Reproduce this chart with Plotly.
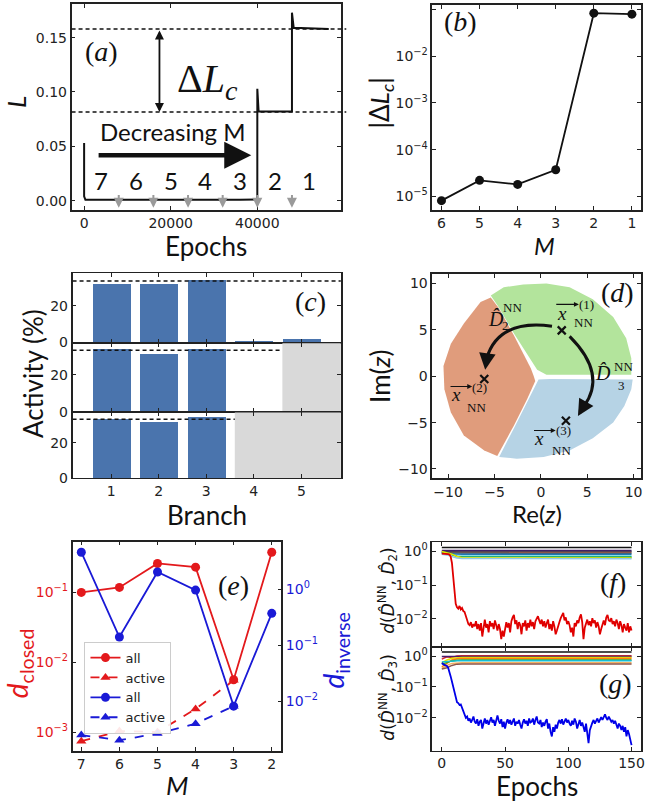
import plotly.graph_objects as go

W, H = 651, 811

# ---------------- (a) training loss over successive stages ----------------
loss_epochs = [0, 0, 300, 20000, 36000, 39900, 40000, 40000, 40300, 47900, 48000, 48000, 48400, 56500]
loss_values = [0.053, 0.004, 0.0008, 0.0006, 0.0008, 0.0012, 0.0008, 0.103, 0.082, 0.082, 0.082, 0.173, 0.159, 0.158]
stage_ends = [8000, 16000, 24000, 32000, 40000, 48000]
stage_mid = [4000, 12000, 20000, 28000, 36000, 44000, 52000]
stage_M = ["7", "6", "5", "4", "3", "2", "1"]
plateau_M2 = 0.0815
plateau_M1 = 0.158

# ---------------- (b) closure loss jump vs M ----------------
M_b = [6, 5, 4, 3, 2, 1]
dLc = [8.1e-6, 2.2e-5, 1.8e-5, 3.7e-5, 0.083, 0.079]

# ---------------- (c) branch activity ----------------
branches = [1, 2, 3, 4, 5]
act_M5 = [31.5, 31.5, 33.5, 0.9, 1.8]
act_M4 = [34.0, 31.5, 34.0, 0.8]
act_M3 = [33.5, 32.0, 34.5]
equal_share = 100 / 3

# ---------------- (d) partition of the complex plane ----------------
green_x = [-0.4, -2.9, -4.5, -5.4, -4.0, -1.9, 0.6, 3.1, 5.6, 7.8, 9.2, 9.75, 9.75, 0.6]
green_y = [0.7, 4.6, 7.4, 8.7, 9.6, 9.9, 10.0, 9.6, 8.3, 6.4, 4.1, 1.95, 0.15, 0.15]
orange_x = [-0.8, -1.1, -2.9, -4.5, -5.4, -6.5, -8.3, -9.7, -10.5, -10.4, -9.7, -8.3, -6.1, -4.7, -2.9, -1.5, -0.6]
orange_y = [0.1, 0.9, 4.4, 7.3, 8.5, 8.0, 5.7, 3.5, 1.1, -1.4, -3.9, -6.4, -8.0, -8.6, -5.3, -2.5, -0.5]
blue_x = [-0.25, -1.3, -2.75, -4.5, -2.6, 0.3, 3.1, 5.6, 7.8, 9.0, 9.75, 9.9, 1.0]
blue_y = [-0.35, -2.5, -5.3, -8.7, -8.9, -8.7, -8.0, -6.7, -5.0, -3.2, -1.4, -0.35, -0.3]
centroid_x = [2.25, -6.1, 2.7]
centroid_y = [4.95, -0.3, -4.8]

# ---------------- (e) distances vs M ----------------
M_e = [7, 6, 5, 4, 3, 2]
closed_all = [0.100, 0.118, 0.26, 0.23, 0.0056, 0.377]
closed_active = [7.4e-4, 1.03e-3, 1.0e-3, 2.14e-3, 5.5e-3]
inverse_all = [4.55, 0.14, 2.02, 0.96, 0.0082, 0.37]
inverse_active = [2.5e-3, 2.03e-3, 2.66e-3, 4.0e-3, 8.2e-3]

# ---------------- (f), (g) distance to target operators ----------------
epochs = list(range(151))
d2_match = [
    0.85, 0.85, 0.84, 0.84, 0.83, 0.82, 0.80, 0.70, 0.45, 0.20,
    0.07, 0.028, 0.022, 0.020, 0.024, 0.019, 0.021, 0.017, 0.016, 0.012,
    0.009, 0.007, 0.0065, 0.008, 0.0055, 0.007,
    0.006, 0.0085, 0.005, 0.007, 0.0045, 0.0075, 0.003, 0.006, 0.0095, 0.0055,
    0.007, 0.004, 0.0085, 0.006, 0.0075, 0.005, 0.009, 0.0065, 0.0045, 0.007,
    0.005, 0.0025, 0.0045, 0.003, 0.006, 0.008, 0.0055, 0.0075, 0.004, 0.0085,
    0.011, 0.013, 0.007, 0.009, 0.005, 0.008, 0.0065, 0.0035, 0.0075, 0.006,
    0.009, 0.0045, 0.0075, 0.0055, 0.0095, 0.006, 0.008, 0.005, 0.0085, 0.0105,
    0.012, 0.009, 0.007, 0.0095, 0.006, 0.0085, 0.0055, 0.0075, 0.0095, 0.005,
    0.007, 0.0045, 0.0085, 0.006, 0.0035, 0.0045, 0.0065, 0.008, 0.0105, 0.013,
    0.015, 0.009, 0.011, 0.007, 0.0085, 0.0065, 0.004, 0.0055, 0.003, 0.0075,
    0.006, 0.009, 0.0075, 0.011, 0.0135, 0.008, 0.0025, 0.0055, 0.007, 0.0095,
    0.0065, 0.0085, 0.006, 0.0105, 0.0075, 0.009, 0.0055, 0.008, 0.006, 0.0035,
    0.005, 0.0075, 0.009, 0.0065, 0.011, 0.013, 0.009, 0.0085, 0.0105, 0.007,
    0.0085, 0.006, 0.0095, 0.0075, 0.005, 0.0085, 0.0065, 0.004, 0.007, 0.0055,
    0.0045, 0.0075, 0.004, 0.006, 0.0045,
]
d3_match = [
    0.60, 0.55, 0.52, 0.50, 0.48, 0.42, 0.32, 0.22, 0.15, 0.10,
    0.065, 0.045, 0.032, 0.030, 0.026, 0.027, 0.021, 0.016, 0.012, 0.010, 0.011,
    0.008, 0.0095, 0.007, 0.0085, 0.011, 0.0075, 0.0065, 0.009, 0.0055, 0.0075,
    0.0085, 0.0045, 0.007, 0.0095, 0.0065, 0.0085, 0.006, 0.0075, 0.0105, 0.007,
    0.0085, 0.0055, 0.0095, 0.012, 0.008, 0.0065, 0.009, 0.005, 0.0075, 0.0045,
    0.007, 0.009, 0.0065, 0.0085, 0.006, 0.008, 0.0095, 0.0055, 0.0075, 0.0065,
    0.0085, 0.006, 0.0045, 0.007, 0.009, 0.0065, 0.008, 0.0055, 0.0095, 0.007,
    0.0075, 0.0095, 0.006, 0.0085, 0.011, 0.007, 0.0065, 0.0085, 0.005, 0.007,
    0.0055, 0.0075, 0.009, 0.0045, 0.0065, 0.0035, 0.0025, 0.005, 0.0035, 0.006,
    0.0045, 0.007, 0.0085, 0.0065, 0.009, 0.006, 0.0075, 0.0095, 0.007, 0.0085,
    0.0065, 0.0055, 0.008, 0.006, 0.0095, 0.0075, 0.0045, 0.0065, 0.0085, 0.0055,
    0.007, 0.005, 0.0035, 0.0065, 0.0025, 0.0015, 0.004, 0.0055, 0.007, 0.0085,
    0.0065, 0.008, 0.0095, 0.007, 0.009, 0.0105, 0.0085, 0.0115, 0.013, 0.010,
    0.0085, 0.011, 0.009, 0.0075, 0.0085, 0.0065, 0.008, 0.006, 0.0045, 0.0065,
    0.0055, 0.004, 0.0055, 0.0035, 0.005, 0.0025, 0.004, 0.003, 0.002, 0.0013,
]
other_epochs = [0, 4, 8, 12, 16, 150]
f_others = [
    ("#111111", [1.30, 1.30, 1.30, 1.30, 1.30, 1.30]),
    ("#4b1c6b", [1.05, 1.06, 1.05, 1.05, 1.05, 1.05]),
    ("#22285e", [0.98, 0.98, 0.99, 0.99, 0.99, 0.99]),
    ("#8c564b", [0.92, 0.93, 0.93, 0.93, 0.93, 0.93]),
    ("#555555", [0.88, 0.88, 0.87, 0.87, 0.87, 0.87]),
    ("#1f77b4", [0.86, 0.85, 0.83, 0.82, 0.82, 0.82]),
    ("#17becf", [0.90, 0.86, 0.78, 0.72, 0.71, 0.71]),
    ("#2ca02c", [0.95, 0.90, 0.80, 0.70, 0.67, 0.66]),
    ("#e6e600", [0.98, 0.92, 0.82, 0.70, 0.64, 0.63]),
    ("#8fc8e8", [0.82, 0.78, 0.70, 0.63, 0.61, 0.60]),
]
g_others = [
    ("#111111", [1.35, 1.35, 1.35, 1.35, 1.35, 1.35]),
    ("#d62728", [0.80, 0.95, 0.90, 1.00, 1.02, 1.02]),
    ("#4b1c6b", [0.98, 0.98, 0.98, 0.98, 0.98, 0.98]),
    ("#e6e600", [0.60, 0.75, 0.85, 0.88, 0.90, 0.90]),
    ("#ff7f0e", [0.45, 0.60, 0.75, 0.82, 0.84, 0.84]),
    ("#2ca02c", [0.55, 0.62, 0.70, 0.74, 0.75, 0.75]),
    ("#17becf", [0.65, 0.68, 0.70, 0.71, 0.71, 0.71]),
    ("#f5b060", [0.40, 0.50, 0.58, 0.60, 0.61, 0.61]),
    ("#8c564b", [0.38, 0.42, 0.50, 0.55, 0.56, 0.56]),
]

# ---------------- styling helpers ----------------
INK = "#222222"
TICKFONT = dict(family="DejaVu Sans", size=14, color=INK)
LABEL = "Lato"
SERIF = "Liberation Serif"
RED = "#e3191c"
BLUE = "#1a1ad6"
BAR = "#4a74ad"
SHADE = "#d9d9d9"
FINE_DASH = "4px,3px"


def dom_x(x0, x1):
    return [x0 / W, x1 / W]


def dom_y(y0, y1):
    return [1 - y1 / H, 1 - y0 / H]


def axis(domain, rng, **kw):
    a = dict(domain=domain, range=rng, showline=True, linecolor=INK, linewidth=1.5,
             mirror="ticks", ticks="inside", ticklen=4, tickwidth=1.2, tickcolor=INK,
             showgrid=False, zeroline=False, tickfont=TICKFONT)
    a.update(kw)
    return a


def pow10(e):
    return "10<sup>\u2212%d</sup>" % -e if e < 0 else "10<sup>%d</sup>" % e


fig = go.Figure()
ann = []
shapes = []

# ---------- (a) ----------
fig.add_trace(go.Scatter(x=loss_epochs, y=loss_values, mode="lines", xaxis="x", yaxis="y",
                         line=dict(color="#111111", width=2), showlegend=False))
for lvl in (plateau_M1, plateau_M2):
    shapes.append(dict(type="line", xref="x domain", yref="y", x0=0.0, x1=1.02, y0=lvl, y1=lvl,
                       line=dict(color="#111111", width=1.5, dash=FINE_DASH)))
for e in stage_ends:
    ann.append(dict(x=e, y=-0.0065, ax=e, ay=0.0065, xref="x", yref="y", axref="x", ayref="y",
                    text="", showarrow=True, arrowhead=2, arrowsize=1, arrowwidth=2, arrowcolor="#9a9a9a"))
for xm, lab in zip(stage_mid, stage_M):
    ann.append(dict(x=xm, y=0.019, xref="x", yref="y", text=lab, showarrow=False,
                    font=dict(family=LABEL, size=24, color="#111111")))
ann.append(dict(x=17400, y=plateau_M2, ax=17400, ay=plateau_M1, xref="x", yref="y", axref="x", ayref="y",
                text="", showarrow=True, arrowhead=2, startarrowhead=2, arrowside="end+start",
                arrowsize=1, arrowwidth=1.8, arrowcolor="#111111"))
ann.append(dict(x=38600, y=0.0417, ax=3000, ay=0.0417, xref="x", yref="y", axref="x", ayref="y",
                text="", showarrow=True, arrowhead=2, arrowsize=1.2, arrowwidth=4.5, arrowcolor="#111111"))
ann.append(dict(x=20500, y=0.064, xref="x", yref="y", text="Decreasing M", showarrow=False,
                font=dict(family=LABEL, size=24, color="#111111")))
ann.append(dict(x=28500, y=0.110, xref="x", yref="y", text="\u0394<i>L<sub>c</sub></i>", showarrow=False,
                font=dict(family=SERIF, size=40, color="#111111")))

# ---------- (b) ----------
fig.add_trace(go.Scatter(x=M_b, y=dLc, mode="lines+markers", xaxis="x2", yaxis="y2",
                         line=dict(color="#111111", width=1.8),
                         marker=dict(color="#111111", size=9), showlegend=False))

# ---------- (c) ----------
c_rows = [("x3", "y3", act_M5, None), ("x4", "y4", act_M4, 4.6), ("x5", "y5", act_M3, 3.6)]
for xa, ya, vals, shade_from in c_rows:
    fig.add_trace(go.Bar(x=branches[:len(vals)], y=vals, xaxis=xa, yaxis=ya, width=0.8,
                         marker=dict(color=BAR, line=dict(width=0)), showlegend=False))
    line_end = 5.83 if shade_from is None else shade_from
    if shade_from is not None:
        shapes.append(dict(type="rect", xref=xa, yref=ya, x0=shade_from, x1=5.83, y0=0, y1=37.2,
                           fillcolor=SHADE, line=dict(width=0), layer="below"))
    shapes.append(dict(type="line", xref=xa, yref=ya, x0=0.19, x1=line_end, y0=equal_share, y1=equal_share,
                       line=dict(color="#111111", width=1.5, dash=FINE_DASH)))

# ---------- (d) ----------
for xs, ys, col in [(green_x, green_y, "#b3e49c"), (orange_x, orange_y, "#e09c7c"), (blue_x, blue_y, "#b6d3e5")]:
    fig.add_trace(go.Scatter(x=xs, y=ys, fill="toself", fillcolor=col, mode="lines",
                             line=dict(width=0, color=col), xaxis="x6", yaxis="y6", showlegend=False,
                             hoverinfo="skip"))
fig.add_trace(go.Scatter(x=centroid_x, y=centroid_y, mode="markers", xaxis="x6", yaxis="y6",
                         marker=dict(symbol="x-thin", size=8, line=dict(width=2.2, color="#111111")),
                         showlegend=False))
shapes.append(dict(type="path", xref="x6", yref="y6", path="M 1.2,5.4 Q -4.6,6.2 -5.85,1.9",
                   line=dict(color="#111111", width=3)))
shapes.append(dict(type="path", xref="x6", yref="y6", path="M 3.1,4.3 Q 7.2,0.2 4.6,-3.3",
                   line=dict(color="#111111", width=3)))
ann.append(dict(x=-6.0, y=0.7, ax=-5.8, ay=2.2, xref="x6", yref="y6", axref="x6", ayref="y6",
                text="", showarrow=True, arrowhead=2, arrowsize=1.1, arrowwidth=3, arrowcolor="#111111"))
ann.append(dict(x=4.0, y=-4.3, ax=4.7, ay=-3.1, xref="x6", yref="y6", axref="x6", ayref="y6",
                text="", showarrow=True, arrowhead=2, arrowsize=1.1, arrowwidth=3, arrowcolor="#111111"))


def d_text(x, y, t, size):
    ann.append(dict(x=x, y=y, xref="x6", yref="y6", text=t, showarrow=False,
                    font=dict(family=SERIF, size=size, color="#111111")))


def vec_arrow(x0, x1, y):
    ann.append(dict(x=x1, y=y, ax=x0, ay=y, xref="x6", yref="y6", axref="x6", ayref="y6",
                    text="", showarrow=True, arrowhead=2, arrowsize=0.9, arrowwidth=1.1,
                    arrowcolor="#111111"))


d_text(-4.8, 6.2, "<i>D\u0302</i>", 20)
d_text(-3.1, 7.4, "NN", 13)
d_text(-3.8, 5.5, "2", 13)
d_text(6.7, 0.3, "<i>D\u0302</i>", 20)
d_text(8.9, 1.1, "NN", 13)
d_text(8.7, -1.0, "3", 13)

d_text(2.25, 6.75, "<i>x</i>", 19)
vec_arrow(1.5, 4.1, 7.75)
d_text(4.95, 7.7, "(1)", 13)
d_text(4.6, 5.85, "NN", 13)

d_text(-9.2, -1.95, "<i>x</i>", 19)
vec_arrow(-9.9, -7.4, -1.1)
d_text(-6.6, -1.2, "(2)", 13)
d_text(-6.9, -3.4, "NN", 13)

d_text(-0.25, -6.7, "<i>x</i>", 19)
vec_arrow(-0.9, 1.6, -5.85)
d_text(2.4, -5.85, "(3)", 13)
d_text(2.25, -8.0, "NN", 13)

# ---------- (e) ----------
fig.add_trace(go.Scatter(x=M_e, y=closed_all, mode="lines+markers", name="all", xaxis="x7", yaxis="y7",
                         line=dict(color=RED, width=1.8), marker=dict(color=RED, size=9, symbol="circle")))
fig.add_trace(go.Scatter(x=M_e[:5], y=closed_active, mode="lines+markers", name="active", xaxis="x7", yaxis="y7",
                         line=dict(color=RED, width=1.8, dash="dash"),
                         marker=dict(color=RED, size=9, symbol="triangle-up")))
fig.add_trace(go.Scatter(x=M_e, y=inverse_all, mode="lines+markers", name="all", xaxis="x7", yaxis="y8",
                         line=dict(color=BLUE, width=1.8), marker=dict(color=BLUE, size=9, symbol="circle")))
fig.add_trace(go.Scatter(x=M_e[:5], y=inverse_active, mode="lines+markers", name="active", xaxis="x7", yaxis="y8",
                         line=dict(color=BLUE, width=1.8, dash="dash"),
                         marker=dict(color=BLUE, size=9, symbol="triangle-up")))

# ---------- (f), (g) ----------
for col, vals in f_others:
    fig.add_trace(go.Scatter(x=other_epochs, y=vals, mode="lines", xaxis="x8", yaxis="y9",
                             line=dict(color=col, width=1.5), showlegend=False))
fig.add_trace(go.Scatter(x=epochs, y=d2_match, mode="lines", xaxis="x8", yaxis="y9",
                         line=dict(color="#e00000", width=1.8), showlegend=False))
for col, vals in g_others:
    fig.add_trace(go.Scatter(x=other_epochs, y=vals, mode="lines", xaxis="x9", yaxis="y10",
                             line=dict(color=col, width=1.5), showlegend=False))
fig.add_trace(go.Scatter(x=epochs, y=d3_match, mode="lines", xaxis="x9", yaxis="y10",
                         line=dict(color="#0000e8", width=1.8), showlegend=False))

# ---------- axes ----------
SHARED_LINE = 1.0
layout_axes = dict(
    xaxis=axis(dom_x(72, 343), [-2900, 59300], anchor="y", tickvals=[0, 20000, 40000],
               ticktext=["0", "20000", "40000"]),
    yaxis=axis(dom_y(4, 212), [-0.0085, 0.181], anchor="x", tickvals=[0, 0.05, 0.10, 0.15],
               ticktext=["0.00", "0.05", "0.10", "0.15"]),
    xaxis2=axis(dom_x(435, 645), [6.24, 0.76], anchor="y2", tickvals=M_b),
    yaxis2=axis(dom_y(5, 212), [-5.29, -0.905], anchor="x2", type="log",
                tickvals=[1e-5, 1e-4, 1e-3, 1e-2, 1e-1], ticktext=[pow10(e) for e in (-5, -4, -3, -2, -1)]),
    xaxis3=axis(dom_x(73, 343), [0.19, 5.83], anchor="y3", tickvals=branches, showticklabels=False,
                linewidth=SHARED_LINE),
    yaxis3=axis(dom_y(276, 346), [0, 37.5], anchor="x3", tickvals=[0, 20]),
    xaxis4=axis(dom_x(73, 343), [0.19, 5.83], anchor="y4", tickvals=branches, showticklabels=False,
                linewidth=SHARED_LINE),
    yaxis4=axis(dom_y(346, 416), [0, 37.5], anchor="x4", tickvals=[0, 20]),
    xaxis5=axis(dom_x(73, 343), [0.19, 5.83], anchor="y5", tickvals=branches, linewidth=SHARED_LINE),
    yaxis5=axis(dom_y(416, 483), [0, 37.5], anchor="x5", tickvals=[0, 20]),
    xaxis6=axis(dom_x(435, 645), [-11.7, 10.8], anchor="y6", tickvals=[-10, -5, 0, 5, 10],
                ticktext=["\u221210", "\u22125", "0", "5", "10"]),
    yaxis6=axis(dom_y(277, 483), [-11, 11], anchor="x6", tickvals=[-10, -5, 0, 5, 10],
                ticktext=["\u221210", "\u22125", "0", "5", "10"]),
    xaxis7=axis(dom_x(73, 283), [7.23, 1.75], anchor="y7", tickvals=M_e),
    yaxis7=axis(dom_y(547, 758), [-3.265, -0.272], anchor="x7", type="log", mirror=False,
                tickvals=[1e-3, 1e-2, 1e-1], ticktext=[pow10(e) for e in (-3, -2, -1)],
                tickfont=dict(family="DejaVu Sans", size=14, color=RED)),
    yaxis8=axis(dom_y(547, 758), [-2.877, 0.847], anchor="x7", overlaying="y7", side="right",
                type="log", mirror=False,
                tickvals=[1e-2, 1e-1, 1], ticktext=[pow10(e) for e in (-2, -1, 0)],
                tickfont=dict(family="DejaVu Sans", size=14, color=BLUE)),
    xaxis8=axis(dom_x(435, 645), [-7.5, 157.5], anchor="y9", tickvals=[0, 50, 100, 150], showticklabels=False,
                linewidth=SHARED_LINE),
    yaxis9=axis(dom_y(547, 653), [-2.82, 0.285], anchor="x8", type="log",
                tickvals=[1e-2, 1e-1, 1], ticktext=[pow10(e) for e in (-2, -1, 0)]),
    xaxis9=axis(dom_x(435, 645), [-7.5, 157.5], anchor="y10", tickvals=[0, 50, 100, 150],
                linewidth=SHARED_LINE),
    yaxis10=axis(dom_y(653, 758), [-3.06, 0.31], anchor="x9", type="log",
                 tickvals=[1e-2, 1e-1, 1], ticktext=[pow10(e) for e in (-2, -1, 0)]),
)


def paper_text(x, y, t, size, family=LABEL, color="#111111", angle=0):
    ann.append(dict(x=x / W, y=1 - y / H, xref="paper", yref="paper", text=t, showarrow=False,
                    textangle=angle, xanchor="center", yanchor="middle",
                    font=dict(family=family, size=size, color=color)))


# panel tags
paper_text(102, 52, "(<i>a</i>)", 28, SERIF)
paper_text(463, 22, "(<i>b</i>)", 28, SERIF)
paper_text(312, 304, "(<i>c</i>)", 28, SERIF)
paper_text(621, 295, "(<i>d</i>)", 28, SERIF)
paper_text(235, 591, "(<i>e</i>)", 28, SERIF)
paper_text(617, 588, "(<i>f</i>)", 28, SERIF)
paper_text(619, 690, "(<i>g</i>)", 28, SERIF)

# axis titles
paper_text(16, 103, "<i>L</i>", 26, angle=-90)
paper_text(207, 248, "Epochs", 26)
paper_text(383, 104, "|\u0394<i>L<sub>c</sub></i>|", 26, angle=-90)
paper_text(548, 248, "<i>M</i>", 24)
paper_text(33, 377, "Activity (%)", 26, angle=-90)
paper_text(208, 520, "Branch", 26)
paper_text(383, 380, "Im(<i>z</i>)", 26, angle=-90)
paper_text(540, 519, "Re(<i>z</i>)", 24)
paper_text(20, 670, "<i>d</i><sub>closed</sub>", 28, color=RED, angle=-90)
paper_text(337, 657, "<i>d</i><sub>inverse</sub>", 28, color=BLUE, angle=-90)
paper_text(178, 793, "<i>M</i>", 26)
paper_text(390, 597, "<i>d</i>(<i>D\u0302</i><sup>NN</sup>, <i>D\u0302</i><sub>2</sub>)", 17, "DejaVu Sans", angle=-90)
paper_text(390, 705, "<i>d</i>(<i>D\u0302</i><sup>NN</sup>, <i>D\u0302</i><sub>3</sub>)", 17, "DejaVu Sans", angle=-90)
paper_text(540, 794, "Epochs", 26)

fig.update_layout(
    width=W, height=H, margin=dict(l=0, r=0, t=0, b=0),
    paper_bgcolor="white", plot_bgcolor="white",
    annotations=ann, shapes=shapes, bargap=0,
    legend=dict(x=85 / W, y=1 - 648 / H, xanchor="left", yanchor="top",
                bgcolor="rgba(255,255,255,0.9)", bordercolor="#cccccc", borderwidth=1,
                font=dict(family="DejaVu Sans", size=13, color=INK), tracegroupgap=0,
                itemwidth=30),
    **layout_axes,
)

fig.write_html("out.html")
